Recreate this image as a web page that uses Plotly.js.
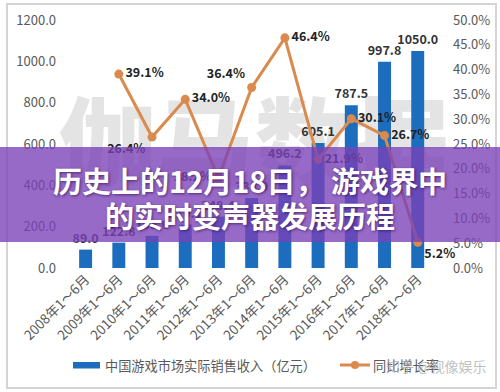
<!DOCTYPE html>
<html><head><meta charset="utf-8">
<script src="https://cdn.plot.ly/plotly-3.0.1.min.js"></script>
<style>html,body{margin:0;padding:0;background:#fff;} #chart{width:500px;height:392px;}</style>
</head><body><div id="chart"></div>
<script>
const categories = ['2008年1～6月','2009年1～6月','2010年1～6月','2011年1～6月','2012年1～6月','2013年1～6月','2014年1～6月','2015年1～6月','2016年1～6月','2017年1～6月','2018年1～6月'];
const revenue = [89.0, 122.8, 155.6, 210.1, 248.4, 338.9, 496.2, 605.1, 787.5, 997.8, 1050.0];
const growthCategories = categories.slice(1);
const growth = [39.1, 26.4, 34.0, 18.2, 36.4, 46.4, 21.9, 30.1, 26.7, 5.2];
const leftTicks = [0, 200, 400, 600, 800, 1000, 1200];
const rightTicks = [0, 5, 10, 15, 20, 25, 30, 35, 40, 45, 50];
const seriesNames = ['中国游戏市场实际销售收入（亿元）', '同比增长率'];
const titleLines = ['历史上的12月18日， 游戏界中', '的实时变声器发展历程'];
const watermarkBig = '伽马数据';
const watermarkSmall = '知乎 @视像娱乐';

const FONT = '"Noto Sans CJK SC", "Noto Sans", sans-serif';
const BLUE = '#1c6dbd', ORANGE = '#d98a4c';
const labelPos = ['middle right','bottom left','middle right','middle left','top left','middle right','middle right','middle right','middle right','bottom right'];

const svg = '<svg xmlns="http://www.w3.org/2000/svg" width="390" height="100" viewBox="0 0 390 100">' +
  '<text x="195" y="86" text-anchor="middle" font-family="Noto Sans CJK SC" font-weight="900" font-size="96" fill="#e4e4e4" letter-spacing="2">' + watermarkBig + '</text></svg>';
const svgURI = 'data:image/svg+xml;charset=utf-8,' + encodeURIComponent(svg);

const PL = 69, PR = 442, PT = 20, PB = 268, W = 500, H = 392;
const px = v => (v - PL) / (PR - PL);
const py = v => (PB - v) / (PB - PT);

const bar = {
  type: 'bar', x: categories, y: revenue, name: seriesNames[0],
  marker: {color: BLUE}, width: 0.39,
  text: revenue.map(v => v.toFixed(1)), textposition: 'outside', cliponaxis: false, constraintext: 'none',
  textfont: {family: FONT, size: 12.5, color: '#333333', weight: 700},
  hoverinfo: 'skip', showlegend: false
};
const line = {
  type: 'scatter', mode: 'lines+markers+text', x: growthCategories, y: growth, yaxis: 'y2',
  name: seriesNames[1],
  line: {color: ORANGE, width: 3}, marker: {color: ORANGE, size: 9},
  text: growth.map(v => v.toFixed(1) + '%'), textposition: labelPos, cliponaxis: false,
  textfont: {family: FONT, size: 12.5, color: '#222222', weight: 700},
  hoverinfo: 'skip', showlegend: false
};

const legendY = py(365);
const layout = {
  width: W, height: H,
  margin: {l: PL, r: W - PR, t: PT, b: H - PB, pad: 0},
  paper_bgcolor: '#ffffff', plot_bgcolor: 'rgba(0,0,0,0)',
  font: {family: FONT, color: '#595959'},
  showlegend: false,
  xaxis: {type: 'category', tickangle: -45, tickfont: {family: FONT, size: 13.5, color: '#595959'},
          showgrid: false, showline: false, zeroline: false, ticks: '', automargin: false},
  yaxis: {range: [0, 1200], tickvals: leftTicks, ticktext: leftTicks.map(v => v.toFixed(1)),
          showgrid: false, zeroline: false, showline: false, ticks: '', ticklabelstandoff: 12,
          tickfont: {family: FONT, size: 13, color: '#595959'}, automargin: false, fixedrange: true},
  yaxis2: {range: [0, 50], overlaying: 'y', side: 'right', tickvals: rightTicks,
           ticktext: rightTicks.map(v => v.toFixed(1) + '%'),
           showgrid: false, zeroline: false, showline: false, ticks: '', ticklabelstandoff: 10,
           tickfont: {family: FONT, size: 13, color: '#595959'}, automargin: false},
  images: [{source: svgURI, xref: 'paper', yref: 'paper', x: px(60), y: py(92), sizex: px(450) - px(60), sizey: py(92) - py(192),
            sizing: 'stretch', layer: 'below', xanchor: 'left', yanchor: 'top'}],
  shapes: [
    {type: 'rect', xref: 'paper', yref: 'paper', x0: px(7), x1: px(496), y0: py(388), y1: py(4),
     line: {color: '#d4d4d4', width: 2}, fillcolor: 'rgba(0,0,0,0)', layer: 'below'},
    {type: 'rect', xref: 'paper', yref: 'paper', x0: px(-2), x1: px(502), y0: py(242), y1: py(147),
     line: {width: 0}, fillcolor: 'rgba(122,64,184,0.78)', layer: 'above'},
    // legend swatches
    {type: 'rect', xref: 'paper', yref: 'paper', x0: px(73), x1: px(100), y0: py(368.5), y1: py(362),
     line: {width: 0}, fillcolor: BLUE},
    {type: 'line', xref: 'paper', yref: 'paper', x0: px(340), x1: px(370), y0: legendY, y1: legendY,
     line: {color: ORANGE, width: 3}},
    {type: 'circle', xref: 'paper', yref: 'paper', x0: px(351), x1: px(359), y0: py(369), y1: py(361),
     line: {width: 0}, fillcolor: ORANGE}
  ],
  annotations: [
    {xref: 'paper', yref: 'paper', x: px(250), y: py(180), xanchor: 'center', yanchor: 'middle', showarrow: false,
     text: titleLines[0], font: {family: FONT, size: 29, color: '#ffffff', weight: 700, shadow: '1px 1px 3px rgba(40,0,60,0.6)'}},
    {xref: 'paper', yref: 'paper', x: px(250), y: py(215), xanchor: 'center', yanchor: 'middle', showarrow: false,
     text: titleLines[1], font: {family: FONT, size: 29, color: '#ffffff', weight: 700, shadow: '1px 1px 3px rgba(40,0,60,0.6)'}},
    {xref: 'paper', yref: 'paper', x: px(103), y: legendY, xanchor: 'left', yanchor: 'middle', showarrow: false,
     text: seriesNames[0], font: {family: FONT, size: 13.2, color: '#595959'}},
    {xref: 'paper', yref: 'paper', x: px(371), y: legendY, xanchor: 'left', yanchor: 'middle', showarrow: false,
     text: seriesNames[1], font: {family: FONT, size: 13.2, color: '#595959'}},
    {xref: 'paper', yref: 'paper', x: px(488), y: py(366), xanchor: 'right', yanchor: 'middle', showarrow: false,
     text: watermarkSmall, font: {family: FONT, size: 14, color: 'rgba(170,170,170,0.75)'}}
  ]
};

Plotly.newPlot('chart', [bar, line], layout, {displayModeBar: false, staticPlot: true});
</script></body></html>
